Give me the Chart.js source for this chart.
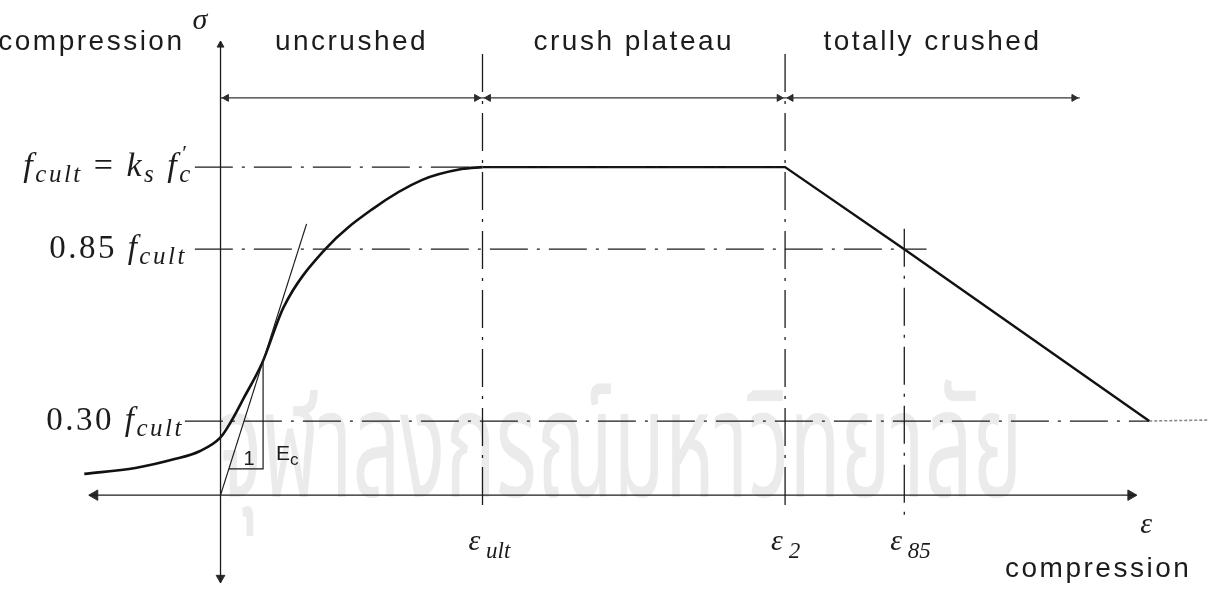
<!DOCTYPE html>
<html>
<head>
<meta charset="utf-8">
<script src="https://cdn.jsdelivr.net/npm/chart.js@4.4.1/dist/chart.umd.min.js"></script>
<style>
  html, body { margin: 0; padding: 0; background: #fff; }
  #wrap { position: relative; width: 1222px; height: 592px; }
</style>
</head>
<body>
<div id="wrap"><canvas id="diagram"></canvas></div>
<script>
// Strain in units where eps_ult = 2, stress as fraction of f_cult (schematic heights)
const riseEps = [-1.04, -0.65, -0.35, -0.16, 0, 0.083, 0.18, 0.317, 0.483, 0.80, 1.16, 1.54, 1.84, 2.0];
const riseSig = [0.065, 0.083, 0.110, 0.134, 0.176, 0.226, 0.298, 0.402, 0.574, 0.750, 0.872, 0.961, 0.994, 1.0];
const softEps = [2.0, 4.31, 5.22, 7.09];
const softSig = [1.0, 1.0, 0.75, 0.226];
const tailEps = [7.09, 7.54];
const tailSig = [0.226, 0.229];

// eps_ult, eps_2, eps_85
const markEps = [2.0, 4.31, 5.22];
const markSub = ['ult', '2', '85'];
const markTop = [1.345, 1.345, 0.8125];
const markBottom = [-0.051, -0.051, -0.074];

// f_cult, 0.85 f_cult, 0.30 f_cult
const levelSig = [1.0, 0.75, 0.226];
const levelStart = [-0.196, -0.196, -0.272];
const levelEnd = [4.31, 5.39, 7.09];

const regionNames = ['uncrushed', 'crush plateau', 'totally crushed'];
const regionEdges = [0, 2.0, 4.31, 6.56];
const regionSig = 1.211;

const tangentEnd = [0.657, 0.827];   // initial modulus E_c
const legEps = 0.325;
const legSig = 0.08;

const strainAxis = [-1.0, 6.99];
const stressAxis = [-0.268, 1.384];

const ink = '#1c1c1c';
const serif = '"Liberation Serif", "DejaVu Serif", serif';
const sans = '"Liberation Sans", Arial, sans-serif';

const line = (pts, extra) => Object.assign({
  data: pts, showLine: true, pointRadius: 0, borderColor: ink,
  borderWidth: 1.3, tension: 0, clip: false
}, extra);

const dashDot = [38, 9, 3, 9];

const datasets = [];

levelSig.forEach((s, i) => {
  datasets.push(line([{x: levelStart[i], y: s}, {x: levelEnd[i], y: s}], {borderDash: dashDot}));
});
markEps.forEach((e, i) => {
  datasets.push(line([{x: e, y: markTop[i]}, {x: e, y: markBottom[i]}], {borderDash: dashDot}));
});

// axes
datasets.push(line([{x: strainAxis[0], y: 0}, {x: strainAxis[1], y: 0}]));
datasets.push(line([{x: 0, y: stressAxis[0]}, {x: 0, y: stressAxis[1]}]));

// region dimension line
datasets.push(line([{x: regionEdges[0], y: regionSig}, {x: regionEdges[regionEdges.length - 1], y: regionSig}],
  {borderColor: '#333', borderWidth: 1.2}));

// tangent and slope triangle
const ecSlope = tangentEnd[1] / tangentEnd[0];
datasets.push(line([{x: 0, y: 0}, {x: tangentEnd[0], y: tangentEnd[1]}], {borderWidth: 1.2}));
datasets.push(line([{x: legSig / ecSlope, y: legSig}, {x: legEps, y: legSig}, {x: legEps, y: legEps * ecSlope}],
  {borderWidth: 1.2}));

// arrowheads
const head = (x, y, rot, r) => ({x, y, rot, r});
const heads = [
  head(strainAxis[0] + 0.04, 0, 270, 6),
  head(strainAxis[1] - 0.04, 0, 90, 6),
  head(0, stressAxis[1] - 0.012, 0, 4),
  head(0, stressAxis[0] + 0.016, 180, 5)
];
for (let i = 0; i < regionEdges.length - 1; i++) {
  heads.push(head(regionEdges[i] + 0.045, regionSig, 270, 4));
  heads.push(head(regionEdges[i + 1] - 0.045, regionSig, 90, 4));
}
datasets.push({
  data: heads.map(h => ({x: h.x, y: h.y})),
  showLine: false,
  pointStyle: 'triangle',
  rotation: heads.map(h => h.rot),
  pointRadius: heads.map(h => h.r),
  pointBackgroundColor: '#2a2a2a',
  pointBorderColor: '#2a2a2a',
  pointBorderWidth: 1,
  clip: false
});

// stress-strain curve
datasets.push(line(riseEps.map((e, i) => ({x: e, y: riseSig[i]})),
  {borderWidth: 2.6, cubicInterpolationMode: 'monotone', borderColor: '#111'}));
datasets.push(line(softEps.map((e, i) => ({x: e, y: softSig[i]})), {borderWidth: 2.4, borderColor: '#111'}));
datasets.push(line(tailEps.map((e, i) => ({x: e, y: tailSig[i]})),
  {borderWidth: 1.6, borderColor: '#888', borderDash: [3, 2]}));

// draws a run of text pieces (base + subscripts) next to each other
function rich(ctx, parts, x, y, align) {
  let w = 0;
  parts.forEach(p => {
    ctx.font = p.font;
    if (p.adv !== false) w += ctx.measureText(p.t).width;
  });
  let cx = align === 'right' ? x - w : align === 'center' ? x - w / 2 : x;
  parts.forEach(p => {
    ctx.font = p.font;
    ctx.fillText(p.t, cx + (p.dx || 0), y + (p.dy || 0));
    if (p.adv !== false) cx += ctx.measureText(p.t).width;
  });
}

const it = (px) => `italic ${px}px ${serif}`;
const rm = (px) => `${px}px ${serif}`;

const labels = {
  id: 'labels',
  beforeDatasetsDraw(chart) {
    const {ctx, scales: {x, y}} = chart;
    // faint university name behind the plot
    const name = 'จุฬาลงกรณ์มหาวิทยาลัย';
    ctx.save();
    ctx.fillStyle = '#ebebeb';
    ctx.font = `150px "Noto Sans Thai", "Noto Sans", sans-serif`;
    ctx.textBaseline = 'alphabetic';
    ctx.textAlign = 'left';
    const w = ctx.measureText(name).width;
    const x0 = x.getPixelForValue(0) - 3;
    ctx.translate(x0, y.getPixelForValue(0) + 2);
    ctx.scale(805 / w, 1);
    ctx.fillText(name, 0, 0);
    ctx.restore();
  },
  afterDatasetsDraw(chart) {
    const {ctx, scales: {x, y}} = chart;
    ctx.save();
    ctx.fillStyle = ink;
    ctx.textBaseline = 'middle';
    ctx.textAlign = 'left';

    // region captions
    ctx.font = `28px ${sans}`;
    ctx.letterSpacing = '2.5px';
    const capY = y.getPixelForValue(regionSig) - 56;
    regionNames.forEach((n, i) => {
      const mid = (regionEdges[i] + regionEdges[i + 1]) / 2;
      ctx.textAlign = 'center';
      ctx.fillText(n, x.getPixelForValue(mid), capY);
    });
    ctx.textAlign = 'right';
    ctx.fillText('compression', x.getPixelForValue(0) - 36, capY);
    ctx.textAlign = 'center';
    ctx.fillText('compression', x.getPixelForValue(6.70), y.getPixelForValue(-0.202) + 8);
    ctx.textAlign = 'left';

    // stress levels
    ctx.letterSpacing = '2.5px';
    const lx = (i) => x.getPixelForValue(levelStart[i]) - 2;
    rich(ctx, [
      {t: 'f', font: it(34)}, {t: 'cult', font: it(25), dy: 8},
      {t: ' = ', font: rm(34)}, {t: 'k', font: it(34)}, {t: 's', font: it(25), dy: 8},
      {t: ' f', font: it(34)}, {t: '′', font: rm(22), dy: -13, dx: 3, adv: false},
      {t: 'c', font: it(25), dy: 8}
    ], lx(0), y.getPixelForValue(levelSig[0]), 'right');
    rich(ctx, [
      {t: '0.85 ', font: rm(33)}, {t: 'f', font: it(33)}, {t: 'cult', font: it(25), dy: 8}
    ], lx(1) - 6, y.getPixelForValue(levelSig[1]), 'right');
    rich(ctx, [
      {t: '0.30 ', font: rm(33)}, {t: 'f', font: it(33)}, {t: 'cult', font: it(25), dy: 8}
    ], lx(2) + 1, y.getPixelForValue(levelSig[2]), 'right');
    ctx.letterSpacing = '0px';

    // strain marks
    markEps.forEach((e, i) => {
      rich(ctx, [{t: 'ε', font: it(30)}, {t: ' ' + markSub[i], font: it(23), dy: 10}],
        x.getPixelForValue(e) - 14, y.getPixelForValue(markBottom[1]) + 30, 'left');
    });

    // axis symbols
    rich(ctx, [{t: 'ε', font: it(30)}], x.getPixelForValue(strainAxis[1]) + 4, y.getPixelForValue(0) + 30, 'left');
    rich(ctx, [{t: 'σ', font: it(30)}], x.getPixelForValue(0) - 28, y.getPixelForValue(stressAxis[1]) - 20, 'left');

    // slope triangle
    const lgx = x.getPixelForValue(legEps), lgy = y.getPixelForValue(legSig);
    rich(ctx, [{t: '1', font: `20px ${sans}`}], lgx - 14, lgy - 9, 'center');
    rich(ctx, [{t: 'E', font: `21px ${sans}`}, {t: 'c', font: `17px ${sans}`, dy: 6}], lgx + 13, lgy - 15, 'left');
    ctx.restore();
  }
};

new Chart(document.getElementById('diagram'), {
  type: 'scatter',
  data: {datasets},
  options: {
    responsive: true,
    maintainAspectRatio: false,
    animation: false,
    layout: {padding: 0},
    plugins: {legend: {display: false}, tooltip: {enabled: false}},
    events: [],
    scales: {
      x: {type: 'linear', display: false, min: -1.630, max: 7.592},
      y: {type: 'linear', display: false, min: -0.2738, max: 1.4881}
    }
  },
  plugins: [labels]
});
</script>
</body>
</html>
